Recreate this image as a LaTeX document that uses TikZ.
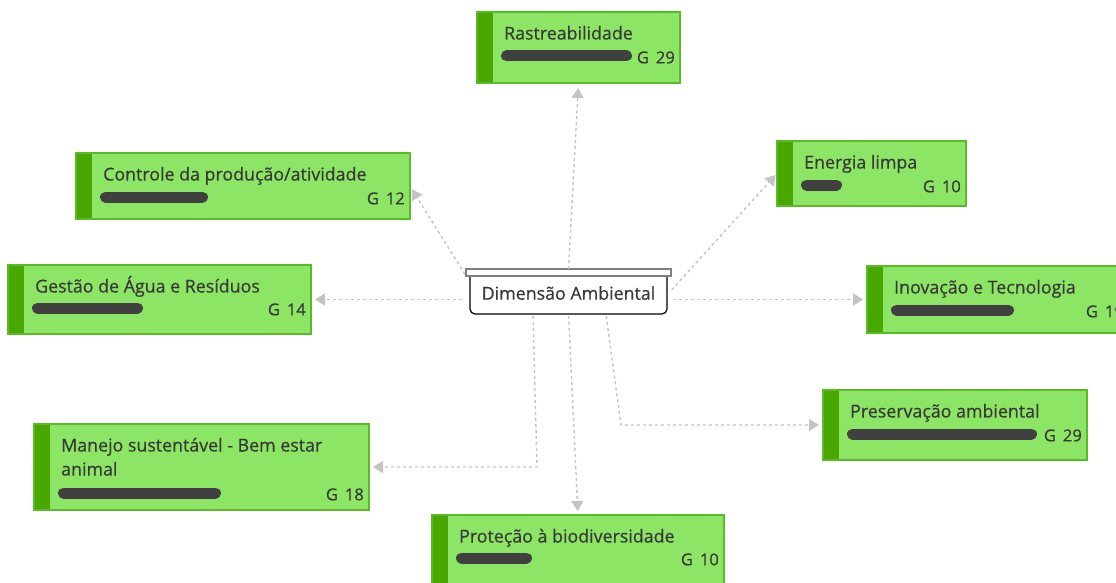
\documentclass[tikz,border=0pt]{standalone}
\usepackage{fontspec}
\setmainfont{Open Sans}[FakeBold=0.5]
\usetikzlibrary{arrows.meta}

\definecolor{boxfill}{HTML}{8CE564}
\definecolor{boxline}{HTML}{5ABB26}
\definecolor{boxbar}{HTML}{48A800}
\definecolor{ink}{HTML}{383838}
\definecolor{meter}{HTML}{404040}
\definecolor{linkgray}{HTML}{C4C4C4}

\tikzset{
  gbox/.style={rectangle, fill=boxfill, inner sep=0pt, outer sep=0pt},
  gedge/.style={draw=boxline, line width=1.5pt},
  title/.style={text=ink, inner sep=0pt, font=\fontsize{17.8}{20}\selectfont},
  glabel/.style={text=ink, inner sep=0pt, font=\fontsize{16.5}{19}\selectfont},
  meterbar/.style={draw=meter, line width=11pt, line cap=round},
  conn/.style={draw=linkgray, line width=1.4pt, dash pattern=on 3pt off 3pt,
    -{Triangle[length=10pt,width=12pt,fill=linkgray]}, shorten >=4pt},
}

% #1 name, #2 left, #3 top, #4 right, #5 bottom, #6 title,
% #7 end of the meter bar, #8 y of the meter bar, #9 count
\newcommand\greenbox[9]{%
  \pgfmathsetmacro\gbW{#4-#2}%
  \pgfmathsetmacro\gbH{#5-#3}%
  \node[gbox, minimum width=\gbW pt, minimum height=\gbH pt, anchor=north west] (#1) at (#2,#3) {};
  \fill[boxbar] (#1.north west) rectangle ([xshift=16pt]#1.south west);
  \draw[gedge] (#1.north west) rectangle (#1.south east);
  \node[title, anchor=base west] (#1-t) at (#2+27,#3+27.5) {#6};
  \draw[meterbar] (#2+29.5,#8) -- (#7-5.5,#8);
  \node[glabel, anchor=base east] (#1-g) at (#4-5,#8+7.3) {G\hspace{7pt}#9};
}

\begin{document}
\begin{tikzpicture}[x=1pt, y=-1pt]
  \useasboundingbox (0,0) rectangle (1116,583);
  \clip (0,0) rectangle (1116,583);

  % topic boxes
  \greenbox{rast}{477}{12}{680}{83}{Rastreabilidade}{632}{56}{29}
  \greenbox{ctrl}{76}{153}{410}{219}{Controle da produção/atividade}{208}{197}{12}
  \greenbox{agua}{8}{265}{311}{334}{Gestão de Água e Resíduos}{143}{308}{14}
  \greenbox{manejo}{34}{424}{369}{510}{Manejo sustentável - Bem estar}{221}{493}{18}
  \node[title, anchor=base west] (manejo-t2) at (61,475.5) {animal};
  \greenbox{prot}{432}{515}{724}{590}{Proteção à biodiversidade}{532}{558}{10}
  \greenbox{pres}{823}{390}{1087}{460}{Preservação ambiental}{1037}{434}{29}
  \greenbox{inov}{867}{266}{1129}{333}{Inovação e Tecnologia}{1014}{310}{19}
  \greenbox{energ}{777}{141}{966}{206}{Energia limpa}{842}{185}{10}

  % central topic
  \node[minimum width=197pt, minimum height=38pt, inner sep=0pt, outer sep=0pt] (c) at (568.5,295) {};
  \draw[black, line width=1.2pt, rounded corners=5pt]
    (c.north west) -- (c.south west) -- (c.south east) -- (c.north east);
  \node[draw=gray, fill=white, line width=1.2pt, minimum width=205pt, minimum height=7pt,
    inner sep=0pt, outer sep=0pt, anchor=south] (strip) at (c.north) {};
  \node[text=ink, inner sep=0pt, font=\fontsize{17.8}{20}\selectfont] (clabel)
    at ([yshift=2pt]c.center) {Dimensão Ambiental};

  % connectors
  \draw[conn, shorten >=5pt] (strip.north) -- (rast.south);
  \draw[conn, shorten <=2pt] (strip.south west) -- (ctrl.east);
  \draw[conn, shorten <=8pt] (c.west |- agua.east) -- (agua.east);
  \draw[conn, shorten <=6pt] (c.east |- inov.west) -- (inov.west);
  \draw[conn, shorten <=7pt, shorten >=2pt] (c.east) -- (energ.west);
  \draw[conn, shorten <=2pt] (c.south) -- (prot.north);
  \draw[conn, shorten <=2pt] ([xshift=-35.5pt]c.south) -- ([xshift=-31.5pt]c.south |- manejo.east) -- (manejo.east);
  \draw[conn, shorten <=2pt] ([xshift=37.5pt]c.south) -- ([xshift=52.5pt]c.south |- pres.west) -- (pres.west);
\end{tikzpicture}
\end{document}
